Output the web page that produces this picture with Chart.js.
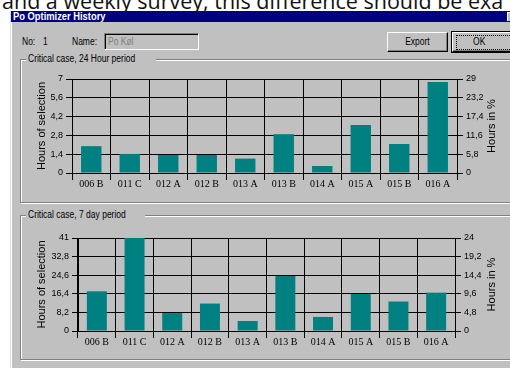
<!DOCTYPE html>
<html>
<head>
<meta charset="utf-8">
<script src="https://cdn.jsdelivr.net/npm/chart.js@4.4.1/dist/chart.umd.min.js"></script>
<style>
  body { margin: 0; width: 510px; height: 368px; overflow: hidden; background: #fff; position: relative;
         font-family: 'Liberation Sans', Arial, sans-serif; font-size: 10px; color: #000; }
  .a { position: absolute; }
  .n { display: inline-block; transform: scaleX(.85); transform-origin: 0 50%; white-space: nowrap; }
  #doc { left: 2px; top: -10px; font: 21.5px 'Open Sans', sans-serif; line-height: 21.5px; white-space: nowrap; color: #111; }
  #dlg { left: 10px; top: 11px; width: 520px; height: 370px; background: #c0c0c0;
         border-left: 1px solid #dfdfdf; box-shadow: inset 1px 0 #fff; }
  #cap { left: 11px; top: 11px; width: 520px; height: 11px; background: #000080; color: #fff; }
  #cap span { position: absolute; left: 2px; top: -1px; font-weight: bold; font-size: 11px; line-height: 12px;
              transform: scaleX(.85); transform-origin: 0 50%; white-space: nowrap; }
  #close { left: 507px; top: 12px; width: 16px; height: 9px; background: #c0c0c0; box-shadow: inset 1px 1px #fff; }
  .lbl { line-height: 12px; }
  #name { left: 104px; top: 33px; width: 93px; height: 15px; border-top: 1px solid #808080; border-left: 1px solid #808080;
          border-bottom: 1px solid #fff; border-right: 1px solid #fff; box-shadow: inset 1px 1px #000; color: #808080; }
  #name .n { position: absolute; left: 3px; top: 2px; line-height: 12px; }
  .btn { height: 18px; border-top: 1px solid #fff; border-left: 1px solid #fff; border-bottom: 1px solid #000; border-right: 1px solid #000;
         box-shadow: inset -1px -1px #808080; text-align: center; line-height: 18px; }
  .btn .n { transform-origin: 50% 50%; }
  #ok { box-shadow: 0 0 0 1px #000, inset -1px -1px #808080; padding-right: 10px; box-sizing: content-box; }
  #focus { left: 456px; top: 35px; width: 60px; height: 13px; border: 1px dotted #000; }
  .grp { width: 520px; border: 1px solid #808080; box-shadow: inset 1px 1px #fff, 1px 1px #fff; }
  .gt { background: #c0c0c0; padding: 0 2px; line-height: 12px; }
  canvas { position: absolute; }
</style>
</head>
<body>
<div id="doc" class="a">and a weekly survey, this difference should be exa</div>
<div id="dlg" class="a"></div>
<div id="cap" class="a"><span>Po Optimizer History</span></div>
<div id="close" class="a"></div>

<div class="a lbl" style="left:22px;top:36px"><span class="n">No:</span></div>
<div class="a lbl" style="left:43px;top:36px"><span class="n">1</span></div>
<div class="a lbl" style="left:72px;top:36px"><span class="n">Name:</span></div>
<div id="name" class="a"><span class="n">Po Køl</span></div>
<div class="a btn" style="left:387px;top:32px;width:59px"><span class="n">Export</span></div>
<div id="ok" class="a btn" style="left:452px;top:32px;width:52px"><span class="n">OK</span></div>
<div id="focus" class="a"></div>

<div class="a grp" style="left:20px;top:59px;height:142px"></div>
<div class="a gt" style="left:26px;top:53px"><span class="n">Critical case, 24 Hour period</span></div>
<div class="a grp" style="left:20px;top:215px;height:143px"></div>
<div class="a gt" style="left:26px;top:209px"><span class="n">Critical case, 7 day period</span></div>

<canvas id="chart24" width="488" height="138" style="left:22px;top:62px"></canvas>
<canvas id="chart7d" width="488" height="136" style="left:22px;top:222px"></canvas>

<script>
const categories = ['006 B', '011 C', '012 A', '012 B', '013 A', '013 B', '014 A', '015 A', '015 B', '016 A'];

// hours of selection per station
const hours24 = [2.0, 1.42, 1.34, 1.34, 1.07, 2.89, 0.52, 3.58, 2.16, 6.77];
const hours7d = [17.5, 41, 7.9, 12.1, 4.4, 24.3, 6.2, 16.3, 13.0, 16.9];

// axis ticks (left = hours, right = percent of period)
const ticks24Hours = [0, 1.4, 2.8, 4.2, 5.6, 7];
const ticks24Pct = [0, 5.8, 11.6, 17.4, 23.2, 29];
const ticks7dHours = [0, 8.2, 16.4, 24.6, 32.8, 41];
const ticks7dPct = [0, 4.8, 9.6, 14.4, 19.2, 24];

Chart.defaults.font.family = "'Liberation Sans', Arial, sans-serif";
Chart.defaults.color = '#000';

const comma = v => String(Math.round(v * 10) / 10).replace('.', ',');

// right axis title, rotated so it reads bottom to top like the left one
const rightTitle = {
  id: 'rightTitle',
  afterDraw(chart) {
    const s = chart.scales.y2;
    const ctx = chart.ctx;
    ctx.save();
    ctx.translate(s.right - 15, (s.top + s.bottom) / 2);
    ctx.rotate(-Math.PI / 2);
    ctx.font = "11px 'Liberation Sans', Arial, sans-serif";
    ctx.fillStyle = '#000';
    ctx.textAlign = 'center';
    ctx.textBaseline = 'middle';
    ctx.fillText(s.options.title.text, 0, 0);
    ctx.restore();
  }
};

function historyChart(id, values, leftTicks, rightTicks, leftWidth, rightWidth, topPad) {
  return new Chart(document.getElementById(id), {
    type: 'bar',
    data: {
      labels: categories,
      datasets: [{
        data: values,
        backgroundColor: '#008080',
        barPercentage: 0.53,
        categoryPercentage: 1
      }]
    },
    options: {
      responsive: false,
      animation: false,
      layout: { padding: { left: 9, right: 3, top: topPad, bottom: 7 } },
      plugins: { legend: { display: false }, tooltip: { enabled: false } },
      scales: {
        x: {
          grid: { color: '#000', tickLength: 7, offset: true },
          border: { color: '#000' },
          ticks: { font: { family: "'Liberation Serif', serif", size: 10 }, padding: -2, maxRotation: 0, autoSkip: false },
          afterFit: s => { s.height = 20; }
        },
        y: {
          min: 0,
          max: leftTicks[leftTicks.length - 1],
          afterBuildTicks: s => { s.ticks = leftTicks.map(value => ({ value })); },
          grid: { color: '#000', tickLength: 6 },
          border: { color: '#000' },
          ticks: { font: { size: 9 }, callback: comma },
          title: { display: true, text: 'Hours of selection', font: { size: 11 }, padding: 4 },
          afterFit: s => { s.width = leftWidth; }
        },
        y2: {
          position: 'right',
          min: 0,
          max: rightTicks[rightTicks.length - 1],
          afterBuildTicks: s => { s.ticks = rightTicks.map(value => ({ value })); },
          grid: { drawOnChartArea: false, color: '#000', tickLength: 6 },
          border: { color: '#000' },
          ticks: { font: { size: 9 }, callback: comma },
          title: { display: false, text: 'Hours in %' },
          afterFit: s => { s.width = rightWidth; }
        }
      }
    },
    plugins: [rightTitle]
  });
}

historyChart('chart24', hours24, ticks24Hours, ticks24Pct, 41, 50, 17);
historyChart('chart7d', hours7d, ticks7dHours, ticks7dPct, 47, 52, 16);
</script>
</body>
</html>
